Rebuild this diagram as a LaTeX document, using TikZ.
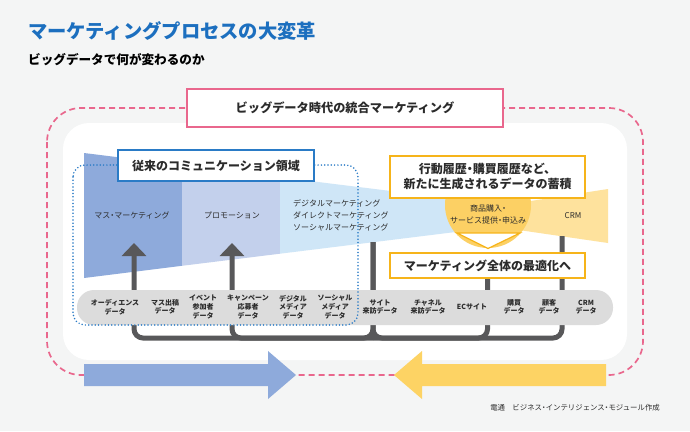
\documentclass[tikz,border=0pt]{standalone}
\usepackage{fontspec}
\setmainfont{Noto Sans CJK JP}
\usetikzlibrary{arrows.meta}

\definecolor{sfondo}{HTML}{F4F5F5}
\definecolor{rosa}{HTML}{E9678D}
\definecolor{titoloblu}{HTML}{1C6FBF}
\definecolor{puntiblu}{HTML}{2A7BC6}
\definecolor{blu1}{HTML}{8EAADB}
\definecolor{blu2}{HTML}{C3D0EC}
\definecolor{blu3}{HTML}{CFE6F7}
\definecolor{giallo1}{HTML}{FEE29D}
\definecolor{oro}{HTML}{FCD064}
\definecolor{orobordo}{HTML}{F6B41A}
\definecolor{grigiobar}{HTML}{DCDCDC}
\definecolor{grigio}{HTML}{58585A}
\definecolor{testo}{HTML}{2B2B2B}
\definecolor{gialloarr}{HTML}{FDD364}

% punto centrale stretto
\newcommand{\punto}{\kern-.25em・\kern-.25em}

\begin{document}
\begin{tikzpicture}[x=1pt, y=-1pt,
    conn/.style={line width=5pt, draw=grigio, rounded corners=9pt},
    freccia/.style={-{Triangle[width=24pt,length=13pt]}},
    dato/.style={font=\fontsize{7}{8.6}\selectfont\bfseries, text=testo, align=center, inner sep=0pt},
    imbuto/.style={font=\fontsize{8}{12}\selectfont, text=testo, inner sep=0pt},
    riquadro/.style={fill=white, text=testo, font=\fontsize{12}{15}\selectfont\bfseries, align=center, inner sep=0pt}]

    % Sfondo
    \useasboundingbox (0,0) rectangle (690,431);
    \fill[sfondo] (0,0) rectangle (690,431);

    % Titoli
    \node[anchor=west, inner sep=0pt, text=titoloblu, font=\fontsize{19.3}{22}\selectfont\bfseries] (titolo) at (28,31) {マーケティングプロセスの大変革};
    \node[anchor=west, inner sep=0pt, text=black, font=\fontsize{12.6}{15}\selectfont\bfseries] (sottotitolo) at (28,60) {ビッグデータで何が変わるのか};

    % Cornice tratteggiata e pannello bianco
    \draw[rosa, line width=1.7pt, dash pattern=on 6pt off 4pt, rounded corners=34pt] (47,108) rectangle (643,375);
    \fill[white, rounded corners=26pt] (63,123) rectangle (627,360);

    % Imbuto
    \fill[blu1] (84,153) -- (182,165.2) -- (182,265.8) -- (84,278) -- cycle;
    \fill[blu2] (182,165.2) -- (280,177.3) -- (280,253.7) -- (182,265.8) -- cycle;
    \fill[blu3] (280,177.3) -- (462,199.8) -- (462,231.2) -- (280,253.7) -- cycle;
    \fill[giallo1] (505,205) -- (608,189) -- (608,243) -- (505,228) -- cycle;
    \fill[oro] (488,205) circle (43pt);
    \filldraw[fill=white, draw=orobordo, line width=1.2pt] (457,233) -- (520,233) -- (488,248.5) -- cycle;

    \node[imbuto] (massa) at (132,215) {マス\punto マーケティング};
    \node[imbuto] (promo) at (232,215) {プロモーション};
    \node[imbuto, anchor=west, align=left] (digitale) at (293,215) {デジタルマーケティング\\ダイレクトマーケティング\\ソーシャルマーケティング};
    \node[imbuto, align=center] (acquisto) at (488,214) {商品購入\punto\\サービス提供\punto 申込み};
    \node[imbuto] (crmtxt) at (573,216) {CRM};

    % Punti di aggancio
    \coordinate (base) at (0,338);
    \coordinate (mm) at (134,243);
    \coordinate (pr) at (232,243);
    \coordinate (dg) at (373,242);
    \coordinate (crm) at (562,236);
    \coordinate (ott) at (487.5,270);

    % Connettori
    \draw[conn, freccia] (dg) |- (mm |- base) -- (mm);
    \draw[conn, freccia] (dg |- base) -| (pr);
    \draw[conn] (crm) |- (dg |- base) -- (dg);
    \draw[conn] (ott) |- (dg |- base);

    % Riquadri gialli
    \node[riquadro, draw=orobordo, line width=1.5pt, minimum width=195pt, minimum height=42pt] (accumulo) at (487.5,177) {行動履歴\punto 購買履歴など、\\新たに生成されるデータの蓄積};
    \node[riquadro, draw=orobordo, line width=1.5pt, minimum width=195pt, minimum height=25pt] (ottimo) at (487.5,265.5) {マーケティング全体の最適化へ};

    % Barra dei dati
    \fill[grigiobar, rounded corners=17pt] (77,290) rectangle (613,325);
    \node[dato] (d1) at (115,307) {オーディエンス\\データ};
    \node[dato] (d2) at (165,307) {マス出稿\\データ};
    \node[dato] (d3) at (203,307) {イベント\\参加者\\データ};
    \node[dato] (d4) at (248,307) {キャンペーン\\応募者\\データ};
    \node[dato] (d5) at (293,307) {デジタル\\メディア\\データ};
    \node[dato] (d6) at (335,307) {ソーシャル\\メディア\\データ};
    \node[dato] (d7) at (380,307) {サイト\\来訪データ};
    \node[dato] (d8) at (428,307) {チャネル\\来訪データ};
    \node[dato] (d9) at (472,307) {ECサイト};
    \node[dato] (d10) at (514,307) {購買\\データ};
    \node[dato] (d11) at (549,307) {顧客\\データ};
    \node[dato] (d12) at (586,307) {CRM\\データ};

    % Area tradizionale (punteggiata)
    \draw[puntiblu, line width=1.7pt, line cap=round, dash pattern=on 0pt off 3.3pt, rounded corners=12pt] (73,165) rectangle (358,325);
    \node[riquadro, draw=puntiblu, line width=1.5pt, minimum width=196pt, minimum height=31pt] (tradizione) at (216,165.5) {従来のコミュニケーション領域};

    % Riquadro rosa
    \node[riquadro, draw=rosa, line width=2pt, minimum width=316pt, minimum height=38pt, font=\fontsize{12.2}{15}\selectfont\bfseries] (integrato) at (345,108) {ビッグデータ時代の統合マーケティング};

    % Frecce in basso
    \fill[blu1] (84,364) -- (268,364) -- (268,351) -- (296,375) -- (268,399) -- (268,386) -- (84,386) -- cycle;
    \fill[gialloarr] (606,364) -- (422,364) -- (422,351) -- (394,375) -- (422,399) -- (422,386) -- (606,386) -- cycle;

    % Fonte
    \node[anchor=east, inner sep=0pt, text=testo, font=\fontsize{7.4}{9}\selectfont] (fonte) at (660,408) {電通　ビジネス\punto インテリジェンス\punto モジュール作成};
\end{tikzpicture}
\end{document}
